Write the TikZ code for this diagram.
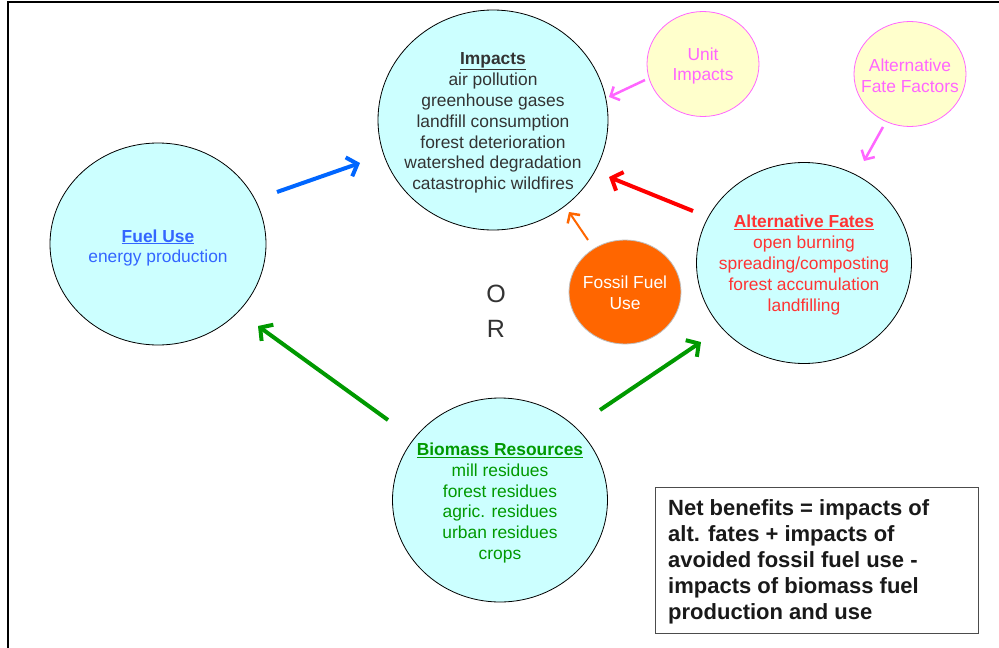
\documentclass[tikz,border=0pt]{standalone}
\usepackage{fontspec}
\setmainfont{Liberation Sans}
\usetikzlibrary{shapes.geometric,arrows.meta}
\definecolor{cyanfill}{HTML}{CCFFFF}
\definecolor{yelfill}{HTML}{FFFFCC}
\definecolor{pinkc}{HTML}{FF66FF}
\definecolor{bluet}{HTML}{3366FF}
\definecolor{bluea}{HTML}{0066FF}
\definecolor{redt}{HTML}{FF3333}
\definecolor{reda}{HTML}{FF0000}
\definecolor{greent}{HTML}{009900}
\definecolor{orangec}{HTML}{FF6600}
\definecolor{darkt}{HTML}{333333}
\tikzset{
  bubble/.style={ellipse, draw=black, line width=0.8pt, fill=cyanfill, inner sep=0pt},
  smallbubble/.style={ellipse, draw=pinkc, line width=0.8pt, fill=yelfill, inner sep=0pt},
  fossilbubble/.style={ellipse, draw=black!25, line width=0.8pt, fill=orangec, inner sep=0pt},
  txt/.style={align=center, font=\fontsize{17.4}{20.9}\selectfont, inner sep=0pt},
  bigarrow/.style={line width=4pt, -{Straight Barb[length=9pt,width=20pt,line width=4pt]}},
  thinarrow/.style={line width=2.5pt, -{Straight Barb[length=7pt,width=15pt,line width=2.5pt]}},
}
\begin{document}
\begin{tikzpicture}[x=1pt,y=-1pt]
\useasboundingbox (0,0) rectangle (999,648);
% frame
\draw[line width=1.2pt] (8,648) -- (8,2) -- (999,2);

% circles
\node[bubble, minimum width=230pt, minimum height=220pt] (imp) at (493,120) {};
\node[txt, text=darkt] (impT) at (493,123) {\textbf{\underline{Impacts}}\\air pollution\\greenhouse gases\\landfill consumption\\forest deterioration\\watershed degradation\\catastrophic wildfires};

\node[bubble, minimum width=216pt, minimum height=202pt] (fuel) at (158,244) {};
\node[txt, text=bluet] (fuelT) at (158,248) {\textbf{\underline{Fuel Use}}\\energy production};

\node[bubble, minimum width=215pt, minimum height=201pt] (alt) at (804,263) {};
\node[txt, text=redt] (altT) at (804,265) {\textbf{\underline{Alternative Fates}}\\open burning\\spreading/composting\\forest accumulation\\landfilling};

\node[bubble, minimum width=215pt, minimum height=204pt] (bio) at (500,500) {};
\node[txt, text=greent] (bioT) at (500,503) {\textbf{\underline{Biomass Resources}}\\mill residues\\forest residues\\agric. residues\\urban residues\\crops};

\node[fossilbubble, minimum width=112pt, minimum height=104pt] (fos) at (625,292) {};
\node[txt, text=white] (fosT) at (625,293) {Fossil Fuel\\Use};

\node[smallbubble, minimum width=112pt, minimum height=105pt] (unit) at (703,64) {};
\node[txt, text=pinkc] (unitT) at (703,66) {Unit\\Impacts};

\node[smallbubble, minimum width=112pt, minimum height=105pt] (aff) at (910,74) {};
\node[txt, text=pinkc] (affT) at (910,76) {Alternative\\Fate Factors};

% OR
\node[txt, font=\fontsize{25}{35}\selectfont, text=darkt] (orT) at (496,311) {O\\R};

% net benefits box
\node[draw=black!70, line width=1pt, minimum width=323pt, minimum height=146pt, inner sep=0pt] (net) at (816.5,560) {};
\node[align=left, anchor=north west, inner sep=0pt, font=\fontsize{22}{26}\selectfont\bfseries, text=black!90] (netT) at (668,499) {Net benefits = impacts of\\alt. fates + impacts of\\avoided fossil fuel use -\\impacts of biomass fuel\\production and use};

% arrows
\coordinate (b1) at (277,192); \coordinate (b2) at (360,163);
\draw[bigarrow, bluea] (b1) -- (b2);
\coordinate (g1) at (388,420); \coordinate (g2) at (258,326);
\draw[bigarrow, greent] (g1) -- (g2);
\coordinate (g3) at (600,410); \coordinate (g4) at (701,342);
\draw[bigarrow, greent] (g3) -- (g4);
\coordinate (r1) at (693,211); \coordinate (r2) at (609,177);
\draw[bigarrow, reda] (r1) -- (r2);
\coordinate (o1) at (588,240); \coordinate (o2) at (569,212);
\draw[thinarrow, orangec, line width=2pt] (o1) -- (o2);
\coordinate (p1) at (645,80); \coordinate (p2) at (609,97);
\draw[thinarrow, pinkc] (p1) -- (p2);
\coordinate (p3) at (883,127); \coordinate (p4) at (864,161);
\draw[thinarrow, pinkc] (p3) -- (p4);
\end{tikzpicture}
\end{document}
